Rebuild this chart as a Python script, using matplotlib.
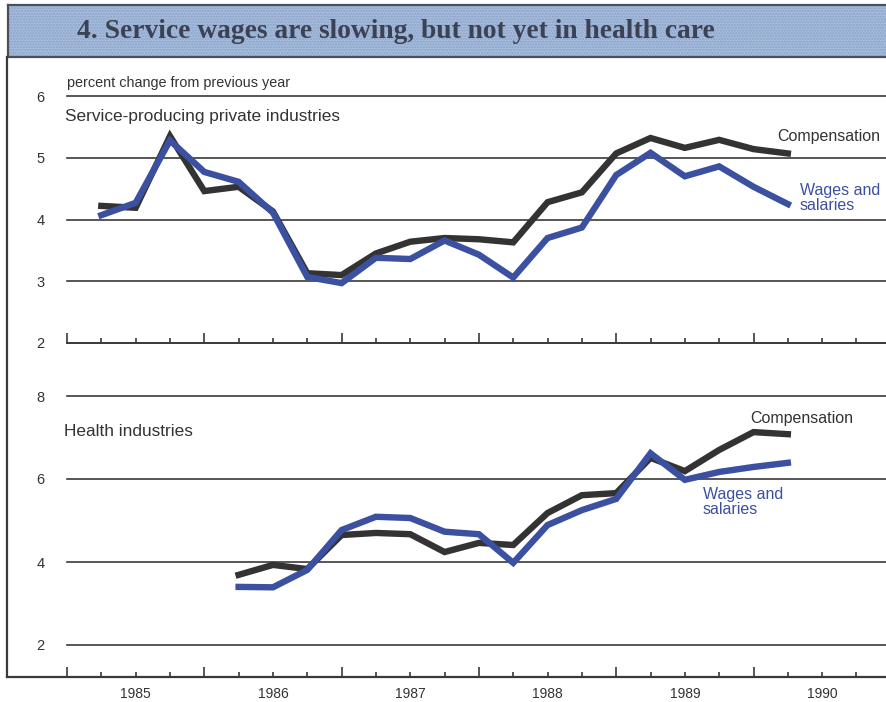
import numpy as np
import matplotlib
matplotlib.use("Agg")
import matplotlib.pyplot as plt
from matplotlib.patches import Rectangle
from matplotlib.lines import Line2D

# quarterly data, percent change from previous year
svc_quarters = np.arange(1985.25, 1990.26, 0.25)
svc_comp = [4.22, 4.19, 5.35, 4.46, 4.53, 4.13, 3.13, 3.10, 3.45, 3.64, 3.70,
            3.68, 3.63, 4.28, 4.44, 5.07, 5.32, 5.16, 5.29, 5.14, 5.07]
svc_wages = [4.07, 4.27, 5.28, 4.77, 4.61, 4.11, 3.07, 2.97, 3.38, 3.36, 3.66,
             3.43, 3.06, 3.70, 3.87, 4.72, 5.08, 4.70, 4.86, 4.53, 4.25]

hlth_quarters = np.arange(1986.25, 1990.26, 0.25)
hlth_comp = [3.69, 3.93, 3.83, 4.65, 4.70, 4.67, 4.24, 4.46, 4.41, 5.18, 5.61,
             5.66, 6.51, 6.19, 6.70, 7.13, 7.08]
hlth_wages = [3.40, 3.39, 3.81, 4.77, 5.09, 5.06, 4.73, 4.67, 3.98, 4.89, 5.25,
              5.52, 6.62, 5.98, 6.17, 6.29, 6.39]

years = [1985, 1986, 1987, 1988, 1989, 1990]
top_ticks = [2, 3, 4, 5, 6]
bot_ticks = [2, 4, 6, 8]

W, H = 886, 702
DARK = "#333333"
BLUE = "#3b50a0"
GRID = "#3a3a3a"

plt.rcParams["font.family"] = ["Liberation Sans", "DejaVu Sans"]
fig = plt.figure(figsize=(W / 100, H / 100), dpi=100)


def fx(px):
    return px / W


def fy(py):
    return 1 - py / H


# title banner
banner = Rectangle((fx(8), fy(57)), fx(W - 8), (57 - 5) / H, transform=fig.transFigure,
                   facecolor="#a6bcdc", edgecolor="#8aa2c8", hatch="......", linewidth=0)
fig.add_artist(banner)
for yy in (5, 57):
    fig.add_artist(Line2D([fx(8), 1], [fy(yy), fy(yy)], color="#4a4f5a", lw=1.6))
fig.add_artist(Line2D([fx(8), fx(8)], [fy(5), fy(57)], color="#4a4f5a", lw=1.6))
fig.text(fx(77), fy(32), "4. Service wages are slowing, but not yet in health care",
         family=["Liberation Serif", "DejaVu Serif"], weight="bold", fontsize=19.8,
         color="#3a4254", va="center", ha="left")

# outer frame
fig.add_artist(Line2D([fx(7), fx(7)], [fy(57), fy(677)], color=GRID, lw=1.6))
fig.add_artist(Line2D([fx(7), 1], [fy(677), fy(677)], color=GRID, lw=1.6))

xlo, xhi = 1985.0, 1985.0 + (W - 67) / 137.3


def setup(ax, ylim, yticks):
    ax.set_xlim(xlo, xhi)
    ax.set_ylim(*ylim)
    for s in ("top", "right", "left"):
        ax.spines[s].set_visible(False)
    ax.spines["bottom"].set_color(GRID)
    ax.spines["bottom"].set_linewidth(1.3)
    for v in yticks:
        ax.axhline(v, color=GRID, lw=1.2, clip_on=False, zorder=1)
    ax.set_yticks(yticks)
    ax.set_yticklabels([str(v) for v in yticks])
    ax.tick_params(axis="y", length=0, pad=16, labelsize=10.5, labelcolor=DARK)
    ax.set_xticks(years)
    ax.set_xticks(np.arange(1985.25, 1991, 0.25), minor=True)
    ax.tick_params(axis="x", which="major", direction="in", length=7, width=1.2, color=GRID)
    ax.tick_params(axis="x", which="minor", direction="in", length=3.5, width=1.2, color=GRID)
    ax.set_xticklabels([])
    ax.patch.set_alpha(0)


# top panel: service-producing
ax1 = fig.add_axes([fx(67), fy(343), fx(W - 67), (343 - 96) / H])
setup(ax1, (2, 6), top_ticks)
ax1.plot(svc_quarters, svc_comp, color=DARK, lw=4.6, solid_joinstyle="miter", zorder=3)
ax1.plot(svc_quarters, svc_wages, color=BLUE, lw=4.6, solid_joinstyle="miter", zorder=4)
fig.text(fx(67), fy(83), "percent change from previous year", fontsize=10.4,
         color=DARK, va="center")
fig.text(fx(65), fy(116), "Service-producing private industries", fontsize=12.4,
         color=DARK, va="center")
fig.text(fx(777), fy(137), "Compensation", fontsize=11.5, color=DARK, va="center")
fig.text(fx(800), fy(198), "Wages and\nsalaries", fontsize=11.5, color=BLUE,
         va="center", linespacing=1.0)

# bottom panel: health
ax2 = fig.add_axes([fx(67), fy(677), fx(W - 67), (677 - 396) / H])
setup(ax2, (2 - 32 / 41.5, 8), bot_ticks)
ax2.plot(hlth_quarters, hlth_comp, color=DARK, lw=4.6, solid_joinstyle="miter", zorder=3)
ax2.plot(hlth_quarters, hlth_wages, color=BLUE, lw=4.6, solid_joinstyle="miter", zorder=4)
ax2.spines["bottom"].set_visible(False)
for y0 in years:
    ax2.text(y0 + 0.5, -0.035, str(y0), transform=ax2.get_xaxis_transform(),
             ha="center", va="top", fontsize=10, color=DARK)
fig.text(fx(64), fy(432), "Health industries", fontsize=12.4, color=DARK, va="center")
fig.text(fx(750), fy(418), "Compensation", fontsize=11.5, color=DARK, va="center")
fig.text(fx(703), fy(502), "Wages and\nsalaries", fontsize=11.5, color=BLUE,
         va="center", linespacing=1.0)

fig.savefig("out.png", dpi=100)
